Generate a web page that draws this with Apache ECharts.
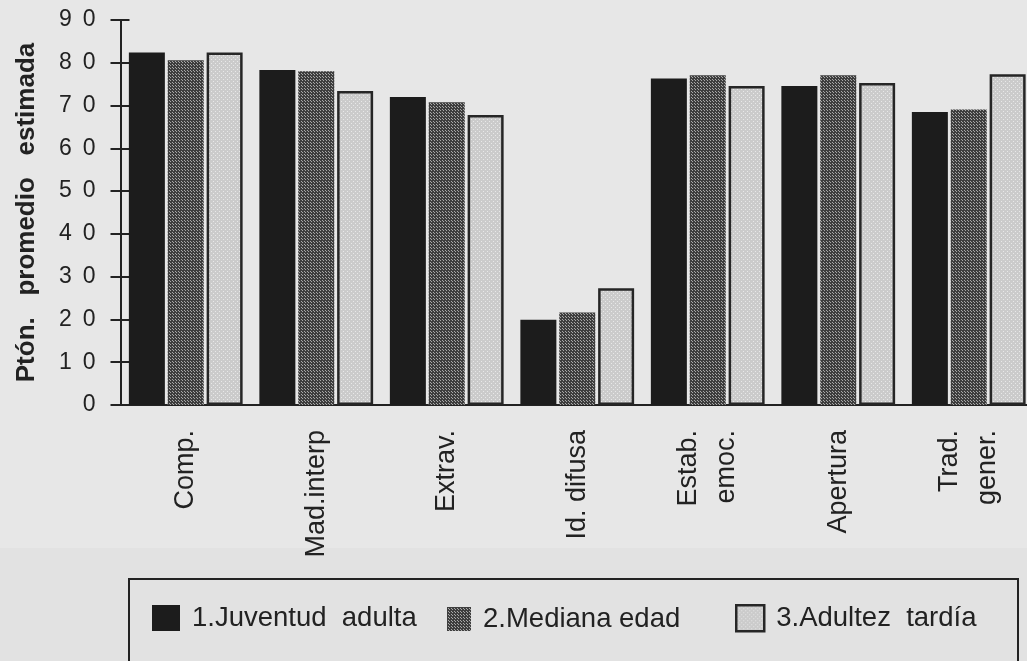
<!DOCTYPE html>
<html>
<head>
<meta charset="utf-8">
<script src="https://cdn.jsdelivr.net/npm/echarts@6/dist/echarts.min.js"></script>
<style>
  html, body { margin: 0; padding: 0; background: #e7e7e7; }
  #chart { width: 1027px; height: 661px; }
</style>
</head>
<body>
<div id="chart"></div>
<script>
// Personality scale scores by age group
const categories = ['Comp.', 'Mad.interp', 'Extrav.', 'Id. difusa', 'Estab.\nemoc.', 'Apertura', 'Trad.\ngener.'];
const seriesNames = ['1.Juventud  adulta', '2.Mediana edad', '3.Adultez  tardía'];
const juventudAdulta = [82.4, 78.3, 72.0, 19.9, 76.3, 74.6, 68.5];
const medianaEdad    = [80.6, 78.0, 70.8, 21.6, 77.1, 77.1, 69.1];
const adultezTardia  = [82.4, 73.4, 67.8, 27.3, 74.6, 75.3, 77.3];
const yMin = 0, yMax = 90, yStep = 10;

const FONT = "'Liberation Sans', Arial, Helvetica, sans-serif";
const INK = '#222';

// small screen-tone textures for the shaded bars
function tone(size, base, dot, dots) {
  const c = document.createElement('canvas');
  c.width = size; c.height = size;
  const g = c.getContext('2d');
  g.fillStyle = base; g.fillRect(0, 0, size, size);
  g.fillStyle = dot;
  dots.forEach(p => g.fillRect(p[0], p[1], 1, 1));
  return { image: c, repeat: 'repeat' };
}
const darkTone = tone(3, '#3e3e3e', '#a8a8a8', [[1, 1], [2, 2]]);
const lightTone = tone(4, '#cbcbcb', '#e8e8e8', [[1, 1], [3, 3]]);

const styles = [
  { color: '#1c1c1c' },
  { color: darkTone },
  { color: lightTone, borderColor: '#262626', borderWidth: 2.5 }
];
const values = [juventudAdulta, medianaEdad, adultezTardia];

const chart = echarts.init(document.getElementById('chart'), null, { renderer: 'canvas' });

const legendLefts = [152, 447, 735];
const legendSizes = [[28, 26], [24, 24], [28, 26]];

const option = {
  backgroundColor: '#e7e7e7',
  animation: false,
  textStyle: { fontFamily: FONT, color: INK },
  grid: { left: 120.5, top: 20, width: 913.5, height: 385, containLabel: false, outerBoundsMode: 'none' },
  graphic: [
    { type: 'rect', silent: true, z: -1,
      shape: { x: 0, y: 548, width: 1027, height: 113 },
      style: { fill: '#e2e2e2' } },
    { type: 'rect', silent: true,
      shape: { x: 129, y: 579, width: 889, height: 140 },
      style: { fill: 'none', stroke: INK, lineWidth: 2 } }
  ],
  legend: seriesNames.map((name, i) => ({
    data: [{ name: name, icon: 'rect', itemStyle: styles[i] }],
    left: legendLefts[i],
    top: 617 - legendSizes[i][1] / 2,
    padding: 0,
    itemWidth: legendSizes[i][0],
    itemHeight: legendSizes[i][1],
    selectedMode: false,
    textStyle: { fontFamily: FONT, fontSize: 27.5, color: INK, padding: [0, 0, 0, 7] }
  })),
  xAxis: [
    {
      type: 'category',
      data: categories,
      axisLine: { lineStyle: { color: INK, width: 2 } },
      axisTick: { length: 9, lineStyle: { color: INK, width: 2 } },
      axisLabel: {
        rotate: 90, margin: 25, fontSize: 27, color: INK, fontFamily: FONT,
        lineHeight: 38, interval: 0, padding: [0, 0, 6, 0]
      }
    },
    {
      type: 'category',
      data: categories,
      position: 'bottom',
      axisLine: { show: false },
      axisTick: { inside: true, length: 4, lineStyle: { color: INK, width: 2 } },
      axisLabel: { show: false }
    }
  ],
  yAxis: [
    {
      type: 'value',
      min: yMin, max: yMax, interval: yStep,
      name: 'Ptón.   promedio   estimada',
      nameLocation: 'middle',
      nameGap: 81,
      nameTextStyle: { fontFamily: FONT, fontWeight: 'bold', fontSize: 26, color: INK },
      splitLine: { show: false },
      axisLine: { show: true, lineStyle: { color: INK, width: 2 } },
      axisTick: { show: true, length: 10, lineStyle: { color: INK, width: 2 } },
      axisLabel: {
        margin: 25, fontSize: 23, color: INK, fontFamily: FONT,
        formatter: v => String(v).split('').join(' \u2009')
      }
    },
    {
      type: 'value',
      min: yMin, max: yMax, interval: yStep,
      position: 'left',
      splitLine: { show: false },
      axisLine: { show: false },
      axisTick: { show: true, inside: true, length: 9, lineStyle: { color: INK, width: 2 } },
      axisLabel: { show: false }
    }
  ],
  series: seriesNames.map((name, i) => ({
    name: name,
    type: 'bar',
    data: values[i],
    barWidth: 36,
    barGap: '8%',
    itemStyle: styles[i]
  }))
};

chart.setOption(option);
</script>
</body>
</html>
